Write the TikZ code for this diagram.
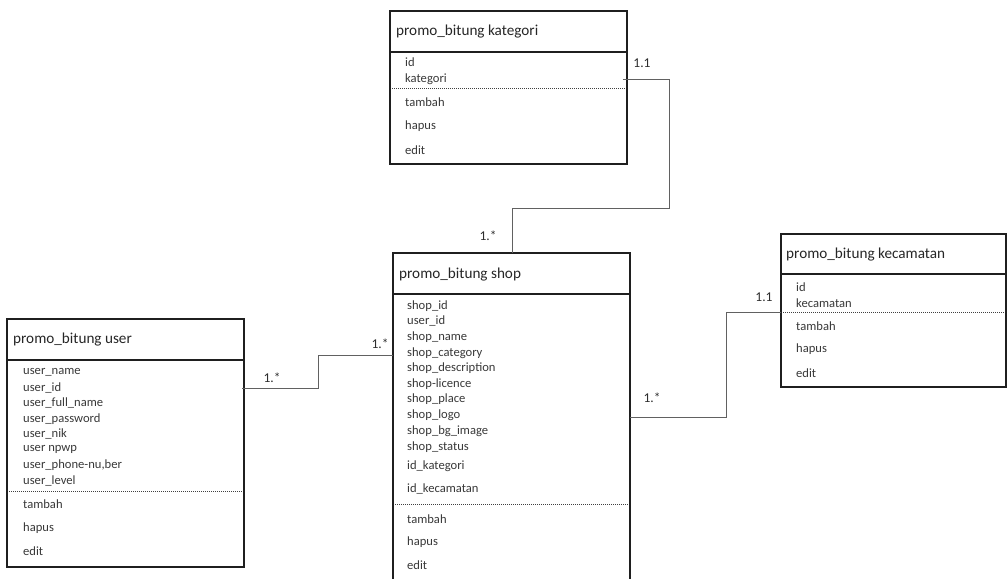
\documentclass[tikz,border=0pt]{standalone}
\usepackage{fontspec}
\setmainfont{Carlito}
\begin{document}
\begin{tikzpicture}[x=1pt,y=-1pt,
  box/.style={draw=black!88,line width=1.7pt,inner sep=0pt,outer sep=0pt,anchor=north west},
  rule/.style={draw=black!88,line width=1.7pt},
  dotrule/.style={draw=black!75,line width=0.9pt,dash pattern=on 1pt off 1pt},
  title/.style={anchor=west,inner sep=0pt,font=\fontsize{15.2}{17}\selectfont,text=black!85},
  attr/.style={anchor=west,inner sep=0pt,font=\fontsize{12.6}{14}\selectfont,text=black!78},
  link/.style={draw=black!62,line width=1pt},
  mult/.style={inner sep=0pt,font=\fontsize{13.5}{15}\selectfont,text=black!82}]
\useasboundingbox (0,0) rectangle (1008,578);
\clip (0,0) rectangle (1008,578);

% ---- kategori table ----
\node[box,minimum width=237pt,minimum height=153pt] (kat) at (390,11) {};
\draw[rule] (390,52) -- (627,52);
\draw[dotrule] (392,88) -- (625,88);
\node[title] (katT) at (396,32) {promo\_bitung kategori};
\node[attr] (kid) at (405,62) {id};
\node[attr] (kkat) at (405,79) {kategori};
\node[attr] (kadd) at (405,102) {tambah};
\node[attr] (kdel) at (405,126) {hapus};
\node[attr] (kedit) at (405,150) {edit};

% ---- shop table ----
\node[box,minimum width=237pt,minimum height=345pt] (shop) at (393,253) {};
\draw[rule] (393,294) -- (630,294);
\draw[dotrule] (395,504) -- (628,504);
\node[title] (shopT) at (399,275) {promo\_bitung shop};
\node[attr] at (407,306) {shop\_id};
\node[attr] at (407,321) {user\_id};
\node[attr] at (407,337) {shop\_name};
\node[attr] at (407,353) {shop\_category};
\node[attr] at (407,368) {shop\_description};
\node[attr] at (407,384) {shop-licence};
\node[attr] at (407,399) {shop\_place};
\node[attr] at (407,415) {shop\_logo};
\node[attr] at (407,431) {shop\_bg\_image};
\node[attr] at (407,447) {shop\_status};
\node[attr] at (407,466) {id\_kategori};
\node[attr] at (407,489) {id\_kecamatan};
\node[attr] at (407,519) {tambah};
\node[attr] at (407,542) {hapus};
\node[attr] at (407,565) {edit};

% ---- user table ----
\node[box,minimum width=237pt,minimum height=248pt] (user) at (7,319) {};
\draw[rule] (7,360) -- (244,360);
\draw[dotrule] (9,491) -- (242,491);
\node[title] (userT) at (13,340) {promo\_bitung user};
\node[attr] at (23,372) {user\_name};
\node[attr] (uid) at (23,388) {user\_id};
\node[attr] at (23,403) {user\_full\_name};
\node[attr] at (23,419) {user\_password};
\node[attr] at (23,434) {user\_nik};
\node[attr] at (23,449) {user npwp};
\node[attr] at (23,465) {user\_phone-nu,ber};
\node[attr] at (23,481) {user\_level};
\node[attr] at (23,504) {tambah};
\node[attr] at (23,528) {hapus};
\node[attr] at (23,551) {edit};

% ---- kecamatan table ----
\node[box,minimum width=225pt,minimum height=153pt] (kec) at (781,234) {};
\draw[rule] (781,274) -- (1006,274);
\draw[dotrule] (783,312) -- (1004,312);
\node[title] (kecT) at (786,255) {promo\_bitung kecamatan};
\node[attr] at (796,287) {id};
\node[attr] (kkec) at (796,303) {kecamatan};
\node[attr] at (796,326) {tambah};
\node[attr] at (796,349) {hapus};
\node[attr] at (796,373) {edit};

% ---- relations ----
\coordinate (bendA) at (669,208);
\draw[link] ([xshift=-4pt]kat.east |- kkat) -| (bendA) -| ([xshift=0.5pt]shop.north);
\node[mult] at (642,63) {1.1};
\node[mult] at (488,236) {1.*};

\coordinate (bendB) at (318,355);
\draw[link] ([xshift=-2pt]user.east |- uid) -| (bendB) -- (shop.west |- bendB);
\node[mult] at (272,378) {1.*};
\node[mult] at (380,344) {1.*};

\coordinate (bendC) at (726,417);
\draw[link] (shop.east |- bendC) -- (bendC) |- (kec.west |- 0,312);
\node[mult] at (764,297) {1.1};
\node[mult] at (652,398) {1.*};
\end{tikzpicture}
\end{document}
